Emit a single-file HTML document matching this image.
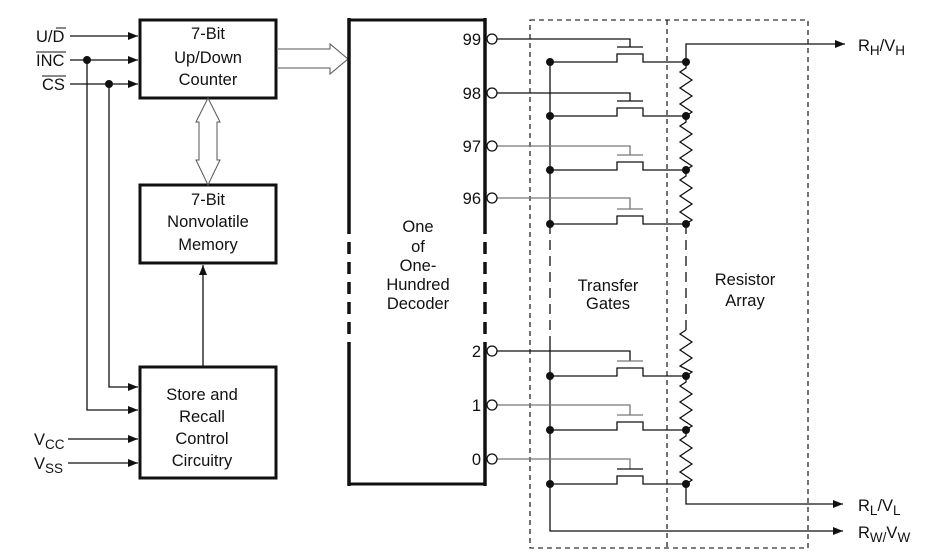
<!DOCTYPE html><html><head><style>body{margin:0;background:#fff}svg{display:block}text{font-family:"Liberation Sans",sans-serif;fill:#111}</style></head><body>
<svg width="930" height="559" viewBox="0 0 930 559" xmlns="http://www.w3.org/2000/svg">
<defs><marker id="a" markerWidth="10" markerHeight="8" refX="10" refY="4" orient="auto" markerUnits="userSpaceOnUse"><path d="M0,0L10,4L0,8z" fill="#111"/></marker></defs>
<g stroke="#111" fill="none" stroke-width="1.3">
<rect x="140" y="20" width="136" height="78" stroke-width="3"/>
<rect x="140" y="185" width="136" height="78" stroke-width="3"/>
<rect x="140" y="367" width="136" height="111" stroke-width="3"/>
<line x1="70" y1="36" x2="138" y2="36" marker-end="url(#a)"/>
<line x1="70" y1="60" x2="138" y2="60" marker-end="url(#a)"/>
<line x1="70" y1="84" x2="138" y2="84" marker-end="url(#a)"/>
<polyline points="87,60 87,410 138,410" marker-end="url(#a)"/>
<polyline points="109,84 109,387 138,387" marker-end="url(#a)"/>
<line x1="68" y1="439" x2="138" y2="439" marker-end="url(#a)"/>
<line x1="68" y1="463" x2="138" y2="463" marker-end="url(#a)"/>
<line x1="203" y1="367" x2="203" y2="265" marker-end="url(#a)"/>
<path d="M199,122 L199,160 L196,160 L208,185 L220,160 L217,160 L217,122 L220,122 L208,98 L196,122z" stroke="#555" stroke-width="1"/>
<path d="M278,49 L330,49 L330,44 L348,59 L330,74 L330,68 L278,68" stroke="#555" stroke-width="1"/>
<line x1="349" y1="20" x2="486" y2="20" stroke-width="3"/>
<line x1="349" y1="484" x2="486" y2="484" stroke-width="3"/>
<line x1="349" y1="18" x2="349" y2="222" stroke-width="3.5"/>
<line x1="349" y1="222" x2="349" y2="345" stroke-width="3.5" stroke-dasharray="12,8"/>
<line x1="349" y1="345" x2="349" y2="486" stroke-width="3.5"/>
<line x1="485" y1="18" x2="485" y2="222" stroke-width="3.5"/>
<line x1="485" y1="222" x2="485" y2="345" stroke-width="3.5" stroke-dasharray="12,8"/>
<line x1="485" y1="345" x2="485" y2="486" stroke-width="3.5"/>
<rect x="530" y="20" width="278" height="528" stroke-dasharray="5,4" stroke-width="1.1" stroke="#000"/>
<line x1="667" y1="20" x2="667" y2="548" stroke-dasharray="5,4" stroke-width="1.1" stroke="#000"/>
<line x1="550" y1="62" x2="550" y2="224"/>
<line x1="550" y1="224" x2="550" y2="340" stroke-dasharray="10,6"/>
<polyline points="550,340 550,531 843,531"  marker-end="url(#a)"/>
<polyline points="686,62 686,44 845,44" marker-end="url(#a)"/>
<polyline points="686,484 686,504 843,504" marker-end="url(#a)"/>
<line x1="686" y1="224" x2="686" y2="330" stroke-dasharray="10,6"/>
<polyline points="686,62 686,68 680,72 692,80 680,88 692,96 680,104 692,112 686,116"/>
<polyline points="686,116 686,122 680,126 692,134 680,142 692,150 680,158 692,166 686,170"/>
<polyline points="686,170 686,176 680,180 692,188 680,196 692,204 680,212 692,220 686,224"/>
<polyline points="686,330 680,334 692,342 680,350 692,358 680,366 692,372 686,376"/>
<polyline points="686,376 686,382 680,386 692,394 680,402 692,410 680,418 692,426 686,430"/>
<polyline points="686,430 686,436 680,440 692,448 680,456 692,464 680,472 692,480 686,484"/>
<polyline points="497,39 630,39 630,47"/><line x1="617" y1="47" x2="643" y2="47"/><polyline points="550,62 617,62 617,54 643,54 643,62 686,62"/>
<polyline points="497,93 630,93 630,101"/><line x1="617" y1="101" x2="643" y2="101"/><polyline points="550,116 617,116 617,108 643,108 643,116 686,116"/>
<polyline points="497,146 630,146 630,155" stroke="#777"/><line x1="617" y1="155" x2="643" y2="155" stroke="#777"/><polyline points="550,170 617,170 617,162 643,162 643,170 686,170"/>
<polyline points="497,198 630,198 630,209" stroke="#777"/><line x1="617" y1="209" x2="643" y2="209" stroke="#777"/><polyline points="550,224 617,224 617,216 643,216 643,224 686,224"/>
<polyline points="497,351 630,351 630,361"/><line x1="617" y1="361" x2="643" y2="361" stroke="#777"/><polyline points="550,376 617,376 617,368 643,368 643,376 686,376"/>
<polyline points="497,405 630,405 630,415" stroke="#777"/><line x1="617" y1="415" x2="643" y2="415" stroke="#777"/><polyline points="550,430 617,430 617,422 643,422 643,430 686,430"/>
<polyline points="497,459 630,459 630,469" stroke="#777"/><line x1="617" y1="469" x2="643" y2="469"/><polyline points="550,484 617,484 617,476 643,476 643,484 686,484"/>
<g fill="#fff">
<circle cx="492" cy="39" r="5"/><circle cx="492" cy="93" r="5"/><circle cx="492" cy="146" r="5"/><circle cx="492" cy="198" r="5"/>
<circle cx="492" cy="351" r="5"/><circle cx="492" cy="405" r="5"/><circle cx="492" cy="459" r="5"/>
</g>
</g>
<g fill="#111">
<circle cx="87" cy="60" r="4"/><circle cx="109" cy="84" r="4"/>
<circle cx="550" cy="62" r="4"/><circle cx="550" cy="116" r="4"/><circle cx="550" cy="170" r="4"/><circle cx="550" cy="224" r="4"/>
<circle cx="550" cy="376" r="4"/><circle cx="550" cy="430" r="4"/><circle cx="550" cy="484" r="4"/>
<circle cx="686" cy="62" r="4"/><circle cx="686" cy="116" r="4"/><circle cx="686" cy="170" r="4"/><circle cx="686" cy="224" r="4"/>
<circle cx="686" cy="376" r="4"/><circle cx="686" cy="430" r="4"/><circle cx="686" cy="484" r="4"/>
</g>
<g font-size="16.5">
<text x="36" y="42">U/D</text><line x1="56" y1="28" x2="66" y2="28" stroke="#111"/>
<text x="36" y="66">INC</text><line x1="36" y1="52" x2="66" y2="52" stroke="#111"/>
<text x="42" y="90">CS</text><line x1="42" y1="76" x2="66" y2="76" stroke="#111"/>
<text x="34" y="445">V<tspan font-size="13.5" dy="4">CC</tspan></text>
<text x="34" y="469">V<tspan font-size="13.5" dy="4">SS</tspan></text>
<g text-anchor="middle">
<text x="208" y="39">7-Bit</text><text x="208" y="63">Up/Down</text><text x="208" y="85">Counter</text>
<text x="208" y="205">7-Bit</text><text x="208" y="227">Nonvolatile</text><text x="208" y="250">Memory</text>
<text x="202" y="400">Store and</text><text x="202" y="422">Recall</text><text x="202" y="444">Control</text><text x="202" y="466">Circuitry</text>
<text x="418" y="232">One</text><text x="418" y="252">of</text><text x="418" y="271">One-</text><text x="418" y="290">Hundred</text><text x="418" y="309">Decoder</text>
<text x="608" y="291">Transfer</text><text x="608" y="309">Gates</text>
<text x="745" y="285">Resistor</text><text x="745" y="306">Array</text>
</g>
<g text-anchor="end">
<text x="481" y="45">99</text><text x="481" y="99">98</text><text x="481" y="152">97</text><text x="481" y="204">96</text>
<text x="481" y="357">2</text><text x="481" y="411">1</text><text x="481" y="465">0</text>
</g>
<text x="858" y="51">R<tspan font-size="13.5" dy="4">H</tspan><tspan dy="-4">/V</tspan><tspan font-size="13.5" dy="4">H</tspan></text>
<text x="858" y="511">R<tspan font-size="13.5" dy="4">L</tspan><tspan dy="-4">/V</tspan><tspan font-size="13.5" dy="4">L</tspan></text>
<text x="858" y="538">R<tspan font-size="13.5" dy="4">W/</tspan><tspan dy="-4">V</tspan><tspan font-size="13.5" dy="4">W</tspan></text>
</g>
</svg></body></html>
